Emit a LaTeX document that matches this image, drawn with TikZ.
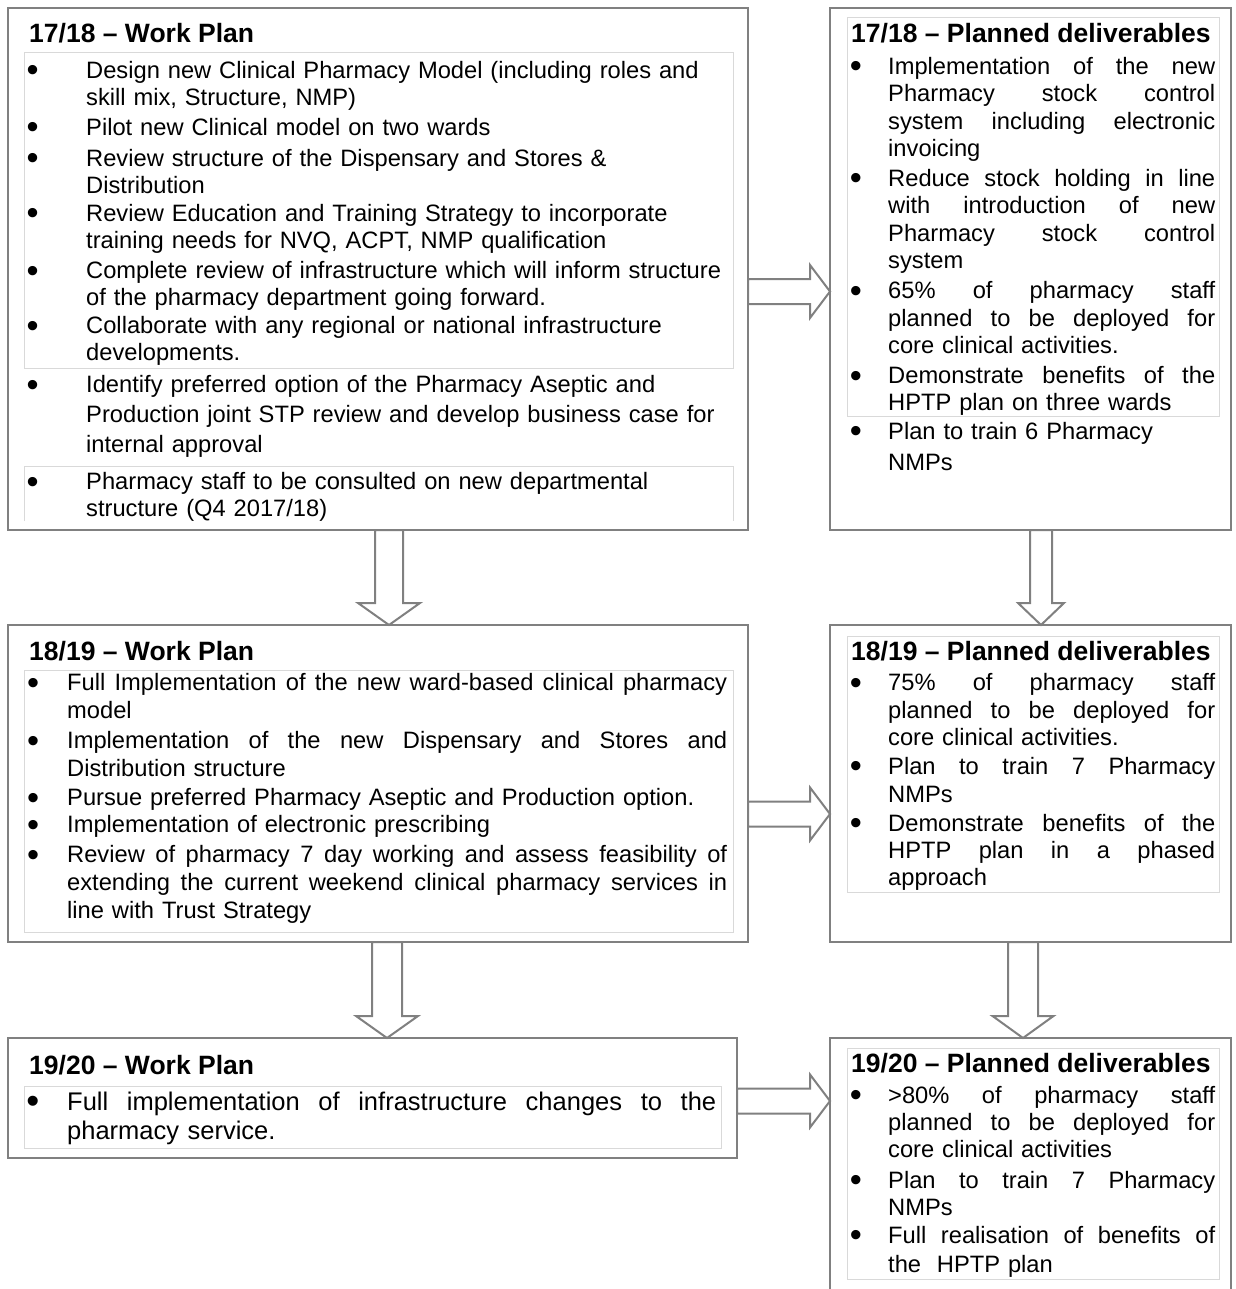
\documentclass[tikz,border=0pt]{standalone}
\usepackage{fontspec}
\setmainfont{Liberation Sans}
\usetikzlibrary{calc,positioning}
\definecolor{framegray}{HTML}{808080}
\definecolor{cellgray}{HTML}{D9D9D9}
\newcommand{\jw}{300pt}
\newcommand{\jl}[1]{\leavevmode\hbox to \jw{\spaceskip=\fontdimen2\font plus 1fil\relax #1}}
\newcommand{\bul}[1]{\leavevmode\llap{\smash{\raisebox{-3.5pt}{\scalebox{1.45}{\textbullet}}}\hspace*{#1}}}
\tikzset{
  frame/.style = {draw=framegray, line width=2pt, inner sep=0pt, outer sep=0pt,
                  anchor=north west},
  cell/.style  = {draw=cellgray, line width=1pt},
  ttl/.style   = {anchor=base west, inner sep=0pt, font=\bfseries\fontsize{26.5}{30}\selectfont},
  item/.style  = {anchor=base west, inner sep=0pt, align=left, text width=#1,
                  execute at begin node={\renewcommand{\jw}{#1}}},
  sk/.style    = {font=\fontsize{23.7}{#1}\selectfont},
  % hollow block arrows: half shaft width, half head width
  darr/.style 2 args = {draw=framegray, line width=2pt, fill=white,
                  to path={let \p1=(\tikztostart), \p2=(\tikztotarget) in
                    (\x1-#1,\y1) -- (\x1-#1,\y2+22pt) -- (\x1-#2,\y2+22pt) -- (\x1,\y2)
                    -- (\x1+#2,\y2+22pt) -- (\x1+#1,\y2+22pt) -- (\x1+#1,\y1) -- cycle}},
  rarr/.style  = {draw=framegray, line width=2pt, fill=white,
                  to path={let \p1=(\tikztostart), \p2=(\tikztotarget) in
                    (\x1,\y1+12.5pt) -- (\x2-20pt,\y1+12.5pt) -- (\x2-20pt,\y1+26.5pt) -- (\x2,\y1)
                    -- (\x2-20pt,\y1-26.5pt) -- (\x2-20pt,\y1-12.5pt) -- (\x1,\y1-12.5pt) -- cycle}},
}

\begin{document}
\begin{tikzpicture}[x=1pt, y=-1pt]
  \useasboundingbox (0,0) rectangle (1235,1289);
  \clip (0,0) rectangle (1235,1289);

  % outer frames
  \node[frame, minimum width=740pt, minimum height=522pt] (wp1718)  at (8,8) {};
  \node[frame, minimum width=401pt, minimum height=522pt] (del1718) at (830,8) {};
  \node[frame, minimum width=740pt, minimum height=317pt] (wp1819)  at (8,625) {};
  \node[frame, minimum width=401pt, minimum height=317pt] (del1819) at (830,625) {};
  \node[frame, minimum width=729pt, minimum height=120pt] (wp1920)  at (8,1038) {};
  \node[frame, minimum width=401pt, minimum height=300pt] (del1920) at (830,1038) {};

  % table cells
  \draw[cell] (24,53) rectangle (733,368);
  \draw[cell] (24,521) -- (24,466) -- (733,466) -- (733,521);
  \draw[cell] (847,18) rectangle (1219,416);
  \draw[cell] (24,670) rectangle (733,932);
  \draw[cell] (847,636) rectangle (1219,892);
  \draw[cell] (24,1086) rectangle (721,1148);
  \draw[cell] (847,1048) rectangle (1219,1279);

  % 17/18 work plan
  \node[ttl] (wp1718t) at (29,43) {17/18 – Work Plan};
  \node[item=650pt, sk=27] (wp1718a) at (86,78.5)
    {\bul{47.5pt}Design new Clinical Pharmacy Model (including roles and\\skill mix, Structure, NMP)};
  \node[item=650pt, sk=27] (wp1718b) at (86,135.5)
    {\bul{47.5pt}Pilot new Clinical model on two wards};
  \node[item=650pt, sk=27] (wp1718c) at (86,166.5)
    {\bul{47.5pt}Review structure of the Dispensary and Stores \&\\Distribution};
  \node[item=650pt, sk=27] (wp1718d) at (86,221.5)
    {\bul{47.5pt}Review Education and Training Strategy to incorporate\\training needs for NVQ, ACPT, NMP qualification};
  \node[item=650pt, sk=27] (wp1718e) at (86,278.5)
    {\bul{47.5pt}Complete review of infrastructure which will inform structure\\of the pharmacy department going forward.};
  \node[item=650pt, sk=27] (wp1718f) at (86,333.5)
    {\bul{47.5pt}Collaborate with any regional or national infrastructure\\developments.};
  \node[item=650pt, sk=30] (wp1718g) at (86,392.5)
    {\bul{47.5pt}Identify preferred option of the Pharmacy Aseptic and\\Production joint STP review and develop business case for\\internal approval};
  \node[item=650pt, sk=27] (wp1718h) at (86,489.5)
    {\bul{47.5pt}Pharmacy staff to be consulted on new departmental\\structure (Q4 2017/18)};

  % 17/18 deliverables
  \node[ttl] (del1718t) at (851,43) {17/18 – Planned deliverables};
  \node[item=327pt, sk=27.33] (del1718a) at (888,74.5)
    {\bul{26.3pt}\jl{Implementation of the new}\\\jl{Pharmacy stock control}\\\jl{system including electronic}\\invoicing};
  \node[item=327pt, sk=27.33] (del1718b) at (888,186.5)
    {\bul{26.3pt}\jl{Reduce stock holding in line}\\\jl{with introduction of new}\\\jl{Pharmacy stock control}\\system};
  \node[item=327pt, sk=27.5] (del1718c) at (888,298.5)
    {\bul{26.3pt}\jl{65\% of pharmacy staff}\\\jl{planned to be deployed for}\\core clinical activities.};
  \node[item=327pt, sk=27] (del1718d) at (888,383.5)
    {\bul{26.3pt}\jl{Demonstrate benefits of the}\\HPTP plan on three wards};
  \node[item=327pt, sk=31] (del1718e) at (888,439)
    {\bul{26.3pt}Plan to train 6 Pharmacy\\NMPs};

  % 18/19 work plan
  \node[ttl] (wp1819t) at (29,660) {18/19 – Work Plan};
  \node[item=660pt, sk=28] (wp1819a) at (67,690.5)
    {\bul{28pt}\jl{Full Implementation of the new ward-based clinical pharmacy}\\model};
  \node[item=660pt, sk=28] (wp1819b) at (67,748.5)
    {\bul{28pt}\jl{Implementation of the new Dispensary and Stores and}\\Distribution structure};
  \node[item=660pt, sk=28] (wp1819c) at (67,805.5)
    {\bul{28pt}Pursue preferred Pharmacy Aseptic and Production option.};
  \node[item=660pt, sk=28] (wp1819d) at (67,832.5)
    {\bul{28pt}Implementation of electronic prescribing};
  \node[item=660pt, sk=28] (wp1819e) at (67,862.5)
    {\bul{28pt}\jl{Review of pharmacy 7 day working and assess feasibility of}\\\jl{extending the current weekend clinical pharmacy services in}\\line with Trust Strategy};

  % 18/19 deliverables
  \node[ttl] (del1819t) at (851,660) {18/19 – Planned deliverables};
  \node[item=327pt, sk=27.5] (del1819a) at (888,690.5)
    {\bul{26.3pt}\jl{75\% of pharmacy staff}\\\jl{planned to be deployed for}\\core clinical activities.};
  \node[item=327pt, sk=28] (del1819b) at (888,774)
    {\bul{26.3pt}\jl{Plan to train 7 Pharmacy}\\NMPs};
  \node[item=327pt, sk=27] (del1819c) at (888,831)
    {\bul{26.3pt}\jl{Demonstrate benefits of the}\\\jl{HPTP plan in a phased}\\approach};

  % 19/20 work plan
  \node[ttl] (wp1920t) at (29,1074) {19/20 – Work Plan};
  \node[item=649pt, font=\fontsize{25.5}{29}\selectfont] (wp1920a) at (67,1110)
    {\bul{28pt}\jl{Full implementation of infrastructure changes to the}\\pharmacy service.};

  % 19/20 deliverables
  \node[ttl] (del1920t) at (851,1072) {19/20 – Planned deliverables};
  \node[item=327pt, sk=27] (del1920a) at (888,1103)
    {\bul{26.3pt}\jl{>80\% of pharmacy staff}\\\jl{planned to be deployed for}\\core clinical activities};
  \node[item=327pt, sk=27] (del1920b) at (888,1188)
    {\bul{26.3pt}\jl{Plan to train 7 Pharmacy}\\NMPs};
  \node[item=327pt, sk=29] (del1920c) at (888,1243)
    {\bul{26.3pt}\jl{Full realisation of benefits of}\\the\ \ HPTP plan};

  % block arrows
  \draw[rarr] ([yshift=-22.5pt]wp1718.east) to (del1718.west);
  \draw[rarr] ([yshift=-30.5pt]wp1819.east) to (del1819.west);
  \draw[rarr] ([yshift=-3pt]wp1920.east) to (del1920.west);
  \draw[darr={14pt}{31pt}] ([xshift=11pt]wp1718.south) to (wp1819.north);
  \draw[darr={11pt}{23pt}] ([xshift=10.5pt]del1718.south) to (del1819.north);
  \draw[darr={15pt}{31pt}] ([xshift=9pt]wp1819.south) to (wp1920.north);
  \draw[darr={15pt}{30.5pt}] ([xshift=-7.5pt]del1819.south) to (del1920.north);
\end{tikzpicture}
\end{document}
